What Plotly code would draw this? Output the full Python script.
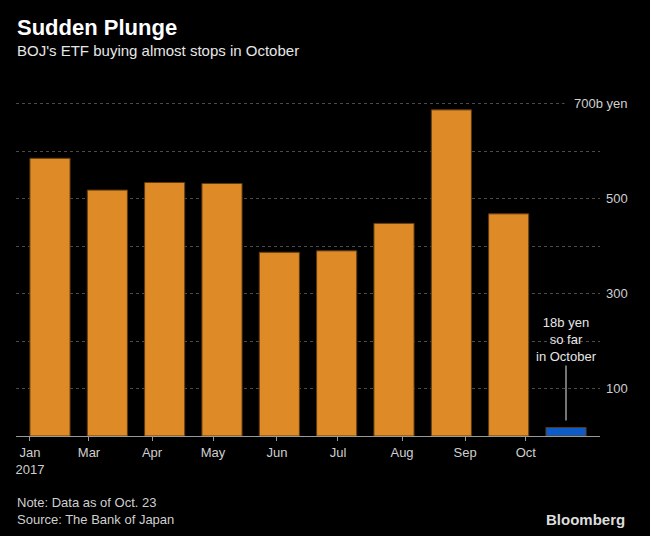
import plotly.graph_objects as go

# ---- data ----
bar_names = ["Jan", "Feb", "Mar", "Apr", "May", "Jun", "Jul", "Aug", "Sep", "Oct so far"]
bar_values = [585, 518, 534, 532, 387, 390, 448, 687, 468, 18]
bar_colors = ["#DE8B27"] * 9 + ["#0D5BC6"]
x_tick_labels = ["Jan<br>2017", "Mar", "Apr", "May", "Jun", "Jul", "Aug", "Sep", "Oct"]
x_tick_pos = [-0.349, 0.68, 1.779, 2.843, 3.959, 5.023, 6.14, 7.24, 8.30]
y_grid_step = 100
y_label_vals = [100, 300, 500, 700]
y_label_text = ["100", "300", "500", "700b yen"]

# ---- layout geometry (pixels) ----
W, H = 650, 536
L, RX = 16, 600
YMAX = 712
PXU = 0.475
BOT = 436.2
TOP = BOT - YMAX * PXU
FONT = "Liberation Sans"


def pyp(ypx):
    return (BOT - ypx) / (BOT - TOP)


def pxp(xpx):
    return (xpx - L) / (RX - L)


fig = go.Figure()
fig.add_trace(go.Bar(
    x=list(range(len(bar_values))),
    y=bar_values,
    width=0.70,
    marker=dict(color=bar_colors, line=dict(color="#5E3A12", width=1)),
    hovertext=bar_names,
    showlegend=False,
))

annotations = []
# titles
annotations.append(dict(text="<b>Sudden Plunge</b>", x=pxp(15), y=pyp(27), xref="paper", yref="paper",
                        xanchor="left", yanchor="middle", showarrow=False,
                        font=dict(family=FONT, size=22, color="#FFFFFF")))
annotations.append(dict(text="BOJ's ETF buying almost stops in October", x=pxp(15), y=pyp(50),
                        xref="paper", yref="paper", xanchor="left", yanchor="middle", showarrow=False,
                        font=dict(family=FONT, size=15, color="#E6E6E6")))
# footer
annotations.append(dict(text="Note: Data as of Oct. 23<br>Source: The Bank of Japan", x=pxp(15), y=pyp(511),
                        xref="paper", yref="paper", xanchor="left", yanchor="middle", showarrow=False,
                        align="left", font=dict(family=FONT, size=13, color="#CFCFCF")))
annotations.append(dict(text="<b>Bloomberg</b>", x=pxp(627), y=pyp(520), xref="paper", yref="paper",
                        xanchor="right", yanchor="middle", showarrow=False,
                        font=dict(family=FONT, size=15, color="#DDDDDD")))
# y labels (right aligned)
for v, t in zip(y_label_vals, y_label_text):
    pad = 9 if t == "700b yen" else 4
    annotations.append(dict(text=t, x=pxp(629 + pad), y=v, xref="paper", yref="y",
                            xanchor="right", yanchor="middle", showarrow=False,
                            bgcolor="#000000", borderpad=pad,
                            font=dict(family=FONT, size=13, color="#CFCFCF")))
# callout
annotations.append(dict(text="18b yen<br>so far<br>in October", x=len(bar_values) - 1, y=bar_values[-1],
                        xref="x", yref="y", showarrow=True, arrowhead=0, arrowwidth=1.5,
                        arrowcolor="#9A9A9A", ax=0, ay=-88, standoff=7,
                        font=dict(family=FONT, size=13, color="#E6E6E6")))

fig.update_layout(
    width=W, height=H,
    paper_bgcolor="#000000", plot_bgcolor="#000000",
    margin=dict(l=L, r=W - RX, t=TOP, b=H - BOT, pad=0),
    annotations=annotations,
    bargap=0.3,
    xaxis=dict(
        range=[-0.593, 9.593], tickmode="array", tickvals=x_tick_pos, ticktext=x_tick_labels,
        showgrid=False, zeroline=False, showline=True, linecolor="#9A9A9A", linewidth=1,
        ticks="outside", ticklen=4, tickcolor="#9A9A9A",
        tickfont=dict(family=FONT, size=13, color="#CFCFCF"),
    ),
    yaxis=dict(
        range=[0, YMAX], dtick=y_grid_step, tick0=0, showticklabels=False,
        showgrid=True, gridcolor="#4A4A4A", griddash="dot", gridwidth=1,
        zeroline=False, showline=False,
    ),
)

fig.write_html("out.html", config={"displayModeBar": False},
               post_script="document.body.style.margin='0';document.body.style.background='#000';")
